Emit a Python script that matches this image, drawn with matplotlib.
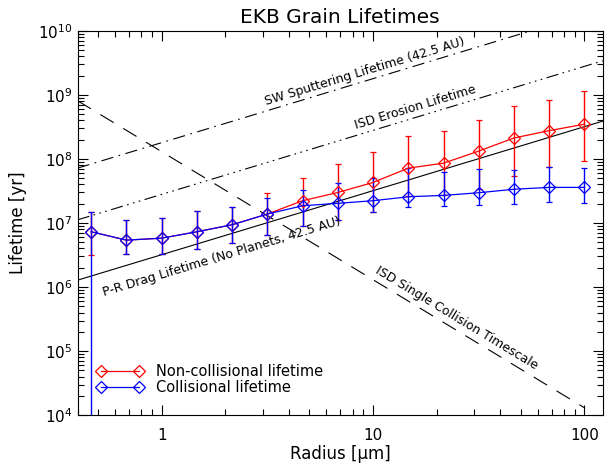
import numpy as np
import matplotlib
matplotlib.use("Agg")
import matplotlib.pyplot as plt
import matplotlib.ticker as ticker
from matplotlib.lines import Line2D

# grain radius (micron) for both model curves
radius = [0.464, 0.681, 1.0, 1.468, 2.154, 3.162, 4.642, 6.813, 10.0,
          14.68, 21.54, 31.62, 46.42, 68.13, 100.0]

# non-collisional lifetime (yr) and error range
noncol = [7.3e6, 5.4e6, 5.8e6, 7.3e6, 9.4e6, 1.38e7, 2.23e7, 3.0e7, 4.3e7,
          7.2e7, 8.6e7, 1.33e8, 2.13e8, 2.77e8, 3.5e8]
noncol_hi = [1.5e7, 1.13e7, 1.18e7, 1.56e7, 1.8e7, 2.9e7, 5.1e7, 8.3e7, 1.3e8,
             2.3e8, 2.77e8, 4.0e8, 6.8e8, 8.3e8, 1.17e9]
noncol_lo = [3.2e6, 3.24e6, 3.3e6, 3.96e6, 4.9e6, 6.5e6, 9.0e6, 1.1e7, 1.5e7,
             2.6e7, 2.7e7, 3.4e7, 5.5e7, 7.4e7, 9.2e7]

# collisional lifetime (yr) and error range
col = [7.3e6, 5.4e6, 5.8e6, 7.3e6, 9.4e6, 1.38e7, 1.86e7, 2.03e7, 2.23e7,
       2.57e7, 2.7e7, 2.97e7, 3.37e7, 3.6e7, 3.6e7]
col_hi = [1.5e7, 1.13e7, 1.18e7, 1.56e7, 1.8e7, 2.43e7, 3.3e7, 4.2e7, 5.1e7,
          7.2e7, 6.3e7, 7.1e7, 6.7e7, 7.4e7, 7.2e7]
col_lo = [1.0, 3.24e6, 3.3e6, 3.96e6, 4.9e6, 6.5e6, 9.0e6, 1.1e7, 1.5e7,
          1.8e7, 1.85e7, 1.9e7, 2.0e7, 2.1e7, 2.07e7]

# analytic timescales: t = coef * s^power, drawn between s_start and s_end
line_names = ["SW Sputtering Lifetime (42.5 AU)", "ISD Erosion Lifetime",
              "P-R Drag Lifetime (No Planets, 42.5 AU)", "ISD Single Collision Timescale"]
line_coef = [1.8e8, 2.8e7, 3.2e6, 1.3e8]
line_power = [1, 1, 1, -2]
line_range = [(0.4, 122), (0.4, 122), (0.4, 122), (0.4, 100)]
# label centre (radius) and offset factor from the line
label_x = [9.1, 15.9, 1.92, 24.7]
label_fac = [1.4, 1.42, 0.48, 1.55]

x_ticks = [1, 10, 100]
y_ticks = [1e4, 1e5, 1e6, 1e7, 1e8, 1e9, 1e10]

plt.rcParams["font.family"] = "DejaVu Sans"
plt.rcParams["mathtext.default"] = "regular"

fig = plt.figure(figsize=(6.06, 4.69), dpi=100)
ax = fig.add_axes([0.128, 0.115, 0.8666, 0.819])
ax.set_xscale("log")
ax.set_yscale("log")
ax.set_xlim(0.4, 122)
ax.set_ylim(1e4, 1e10)

styles = [(0, (11, 5, 1.5, 5)), (0, (11, 4, 1.5, 4, 1.5, 4, 1.5, 4)), "-", (0, (14, 10))]
for k in range(4):
    s = np.logspace(np.log10(line_range[k][0]), np.log10(line_range[k][1]), 50)
    ax.plot(s, line_coef[k] * s ** line_power[k], color="black", lw=0.8,
            linestyle=styles[k])

# rotated labels along the lines
fig.canvas.draw()
for k in range(4):
    x0 = label_x[k]
    y0 = line_coef[k] * x0 ** line_power[k]
    p1 = ax.transData.transform((x0, y0))
    p2 = ax.transData.transform((x0 * 2, y0 * 2 ** line_power[k]))
    ang = np.degrees(np.arctan2(p2[1] - p1[1], p2[0] - p1[0]))
    ax.text(x0, y0 * label_fac[k], line_names[k], rotation=ang, fontsize=9,
            ha="center", va="center", rotation_mode="anchor")

r = np.array(radius)
handles = []
for vals, hi, lo, c, lab in [(noncol, noncol_hi, noncol_lo, "red", "Non-collisional lifetime"),
                             (col, col_hi, col_lo, "blue", "Collisional lifetime")]:
    v = np.array(vals)
    yerr = [v - np.array(lo), np.array(hi) - v]
    ax.errorbar(r, v, yerr=yerr, color=c, marker="D", ms=6, mfc="none",
                mec=c, mew=0.9, lw=0.9, elinewidth=1.0, capsize=2.5, capthick=1.0)
    handles.append(Line2D([], [], color=c, marker="D", ms=6, mfc="none", mec=c,
                          mew=0.9, lw=0.9, label=lab))

leg = ax.legend(handles=handles, loc="lower left", bbox_to_anchor=(0.005, 0.01),
                frameon=False, numpoints=2, fontsize=10.5, handlelength=3.2,
                handletextpad=0.9, labelspacing=0.1, borderpad=0.6)

ax.xaxis.set_major_locator(ticker.FixedLocator(x_ticks))
ax.xaxis.set_major_formatter(ticker.FuncFormatter(lambda v, p: "%g" % v))
ax.yaxis.set_major_locator(ticker.FixedLocator(y_ticks))
ax.yaxis.set_major_formatter(ticker.LogFormatterMathtext())
ax.tick_params(which="both", direction="in", top=True, right=True, labelsize=11)
ax.tick_params(which="major", length=7, width=0.8)
ax.tick_params(which="minor", length=4, width=0.8)
ax.tick_params(axis="x", pad=9)
ax.yaxis.set_minor_locator(ticker.LogLocator(base=10, subs=np.arange(2, 10), numticks=20))
ax.yaxis.set_minor_formatter(ticker.NullFormatter())
ax.xaxis.set_minor_formatter(ticker.NullFormatter())

ax.set_title("EKB Grain Lifetimes", fontsize=14.5, pad=6)
ax.set_xlabel("Radius [μm]", fontsize=12, labelpad=2)
ax.set_ylabel("Lifetime [yr]", fontsize=12, labelpad=8)

plt.savefig("out.png", dpi=100)
